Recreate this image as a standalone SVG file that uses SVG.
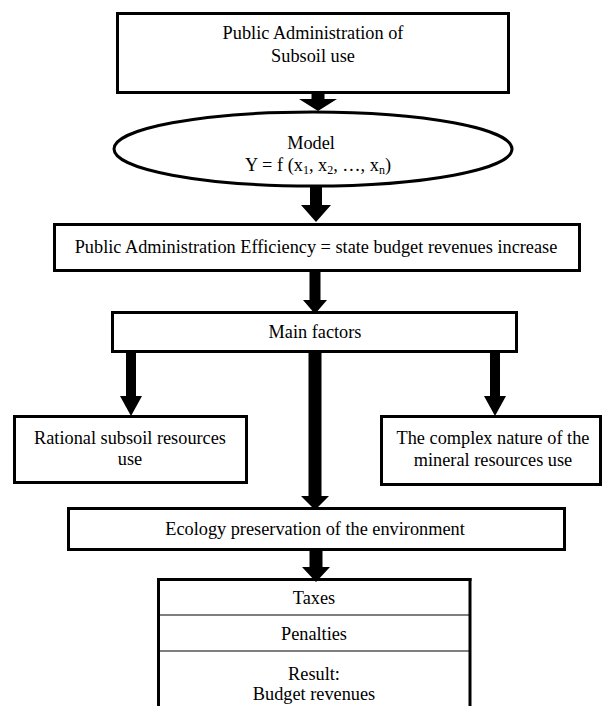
<svg xmlns="http://www.w3.org/2000/svg" width="603" height="706" viewBox="0 0 603 706">
<style>
.box{fill:#fff;stroke:#000;stroke-width:3}
.thin{stroke:#000;stroke-width:1.2;fill:none}
.thick{stroke:#000;stroke-width:3;fill:none}
.t{font-family:"Liberation Serif","Times New Roman",serif;font-size:18.3px;text-anchor:middle;fill:#000}
.sub{font-size:12px}
.arr{fill:#000;stroke:none}
</style>
<rect width="603" height="706" fill="#fff"/>
<g id="node-top">
<rect class="box" x="117.5" y="13.5" width="391" height="79"/>
<text class="t" x="313" y="39">Public Administration of</text>
<text class="t" x="313" y="62">Subsoil use</text>
</g>
<g id="node-model">
<ellipse class="box" cx="313" cy="149" rx="199" ry="37"/>
<text class="t" x="311" y="149">Model</text>
<text class="t" x="318" y="171">Y = f (x<tspan class="sub" dy="3">1</tspan><tspan dy="-3">, x</tspan><tspan class="sub" dy="3">2</tspan><tspan dy="-3">, …, x</tspan><tspan class="sub" dy="3">n</tspan><tspan dy="-3">)</tspan></text>
</g>
<g id="node-efficiency">
<rect class="box" x="54.5" y="224.5" width="525" height="46"/>
<text class="t" x="316" y="253">Public Administration Efficiency = state budget revenues increase</text>
</g>
<g id="node-mainfactors">
<rect class="box" x="112.5" y="312.5" width="404" height="39"/>
<text class="t" x="315" y="338">Main factors</text>
</g>
<g id="node-rational">
<rect class="box" x="14.5" y="416.5" width="232" height="66"/>
<text class="t" x="130" y="444">Rational subsoil resources</text>
<text class="t" x="130" y="465">use</text>
</g>
<g id="node-complex">
<rect class="box" x="381.5" y="416.5" width="219" height="68"/>
<text class="t" x="493" y="444">The complex nature of the</text>
<text class="t" x="493" y="466">mineral resources use</text>
</g>
<g id="node-ecology">
<rect class="box" x="68.5" y="508.5" width="496" height="41"/>
<text class="t" x="315" y="535">Ecology preservation of the environment</text>
</g>
<g id="node-result">
<rect x="158" y="579" width="312" height="130" fill="#fff"/>
<line class="thin" x1="158" y1="615" x2="470" y2="615"/>
<line class="thin" x1="158" y1="651" x2="470" y2="651"/>
<line class="thick" x1="157" y1="579.5" x2="471.5" y2="579.5"/>
<line class="thick" x1="158.5" y1="578" x2="158.5" y2="706"/>
<line class="thick" x1="470" y1="578" x2="470" y2="706"/>
<text class="t" x="314" y="604">Taxes</text>
<text class="t" x="314" y="640">Penalties</text>
<text class="t" x="314" y="680">Result:</text>
<text class="t" x="314" y="700">Budget revenues</text>
</g>
<g id="connectors">
<polygon class="arr" points="311.5,92 324.5,92 324.5,99 337,99 318,111 299,99 311.5,99"/>
<polygon class="arr" points="310,185 322,185 322,205 331,205 316,222 301,205 310,205"/>
<polygon class="arr" points="309.5,270 320.5,270 320.5,300 327,300 315,314 303,300 309.5,300"/>
<polygon class="arr" points="126,351 136,351 136,396 142,396 131,416 120,396 126,396"/>
<polygon class="arr" points="308.5,351 321.5,351 321.5,496 329,496 315,510 301,496 308.5,496"/>
<polygon class="arr" points="490,351 500,351 500,396 506,396 495,416 484,396 490,396"/>
<polygon class="arr" points="309.5,550 322.5,550 322.5,567 330,567 316,582 302,567 309.5,567"/>
</g>
</svg>
